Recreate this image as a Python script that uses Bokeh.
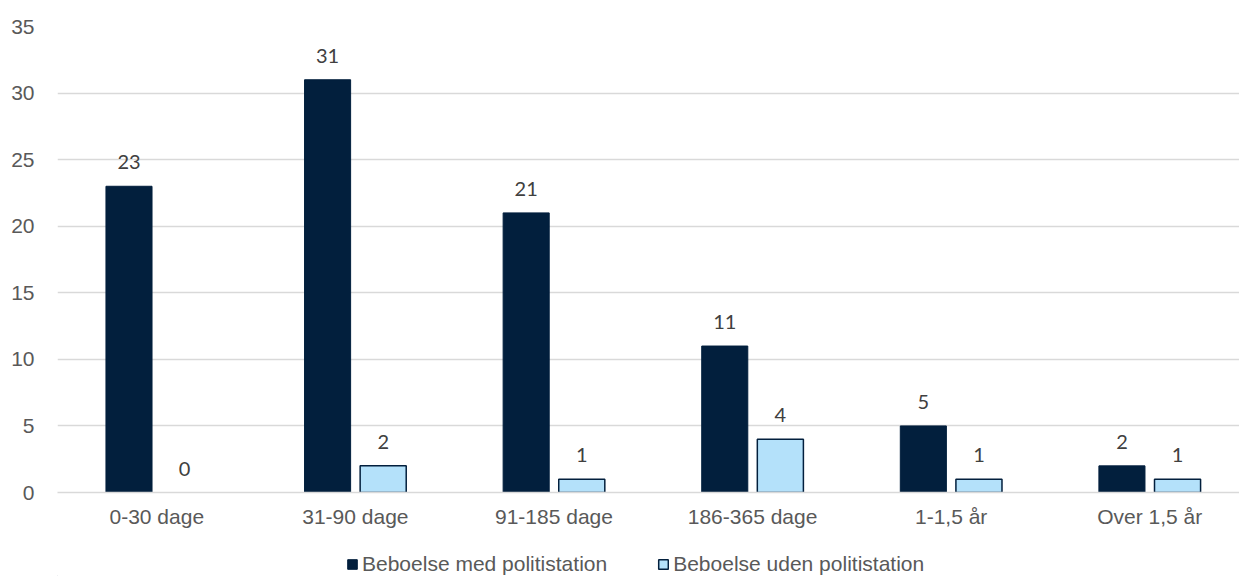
from bokeh.plotting import figure
from bokeh.layouts import column
from bokeh.models import (ColumnDataSource, Range1d, FixedTicker, LabelSet,
                          Legend, LegendItem)
from bokeh.core.properties import value
from bokeh.embed import file_html
from bokeh.resources import INLINE

categories = ["0-30 dage", "31-90 dage", "91-185 dage", "186-365 dage", "1-1,5 år", "Over 1,5 år"]
med_politistation = [23, 31, 21, 11, 5, 2]
uden_politistation = [0, 2, 1, 4, 1, 1]
series_names = ["Beboelse med politistation", "Beboelse uden politistation"]
y_ticks = [0, 5, 10, 15, 20, 25, 30, 35]

DARK = "#021F3D"
LIGHT = "#B4E1FA"
GRID = "#D9D9D9"

centers = [i + 0.5 for i in range(len(categories))]
offset = 0.14
bar_w = 0.232

src_a = ColumnDataSource(dict(x=[c - offset for c in centers], top=med_politistation,
                              label=[str(v) for v in med_politistation]))
src_b = ColumnDataSource(dict(x=[c + offset for c in centers], top=uden_politistation,
                              label=[str(v) for v in uden_politistation],
                              la=[0.0 if v == 0 else 1.0 for v in uden_politistation]))

p = figure(width=1239, height=540, output_backend="svg", toolbar_location=None,
           x_range=Range1d(0, 5.952), y_range=Range1d(0, 35),
           min_border_left=57, min_border_right=0, min_border_top=26, min_border_bottom=48)
p.outline_line_color = None
p.background_fill_color = "white"
p.border_fill_color = "white"

ra = p.vbar(x="x", top="top", width=bar_w, source=src_a, fill_color=DARK,
            line_color=DARK, line_width=1)
rb = p.vbar(x="x", top="top", width=bar_w, source=src_b, fill_color=LIGHT,
            line_color=DARK, line_width=1.5, line_alpha="la")

for s in (src_a, src_b):
    p.add_layout(LabelSet(x="x", y="top", text="label", source=s, y_offset=24,
                          text_align="center", text_baseline="middle",
                          text_font=value("Lato"), text_font_size="20px", text_color="#404040"))

p.xgrid.visible = False
p.ygrid.grid_line_color = GRID
p.ygrid.grid_line_width = 1.3
p.ygrid.ticker = FixedTicker(ticks=y_ticks)

p.yaxis.ticker = FixedTicker(ticks=y_ticks)
p.yaxis.axis_line_color = None
p.yaxis.major_tick_line_color = None
p.yaxis.minor_tick_line_color = None
p.yaxis.major_tick_out = 0
p.yaxis.major_tick_in = 0
p.yaxis.major_label_standoff = 23
p.yaxis.major_label_text_font = "Liberation Sans"
p.yaxis.major_label_text_font_size = "21px"
p.yaxis.major_label_text_color = "#595959"

p.xaxis.ticker = FixedTicker(ticks=centers)
p.xaxis.major_label_overrides = {c: lab for c, lab in zip(centers, categories)}
p.xaxis.axis_line_color = GRID
p.xaxis.axis_line_width = 1.3
p.xaxis.major_tick_line_color = None
p.xaxis.minor_tick_line_color = None
p.xaxis.major_tick_out = 0
p.xaxis.major_tick_in = 0
p.xaxis.major_label_standoff = 12
p.xaxis.major_label_text_font = "Liberation Sans"
p.xaxis.major_label_text_font_size = "21px"
p.xaxis.major_label_text_color = "#595959"

# legend strip below the chart (legend swatches come from off-screen proxy bars)
p2 = figure(width=1239, height=36, output_backend="svg", toolbar_location=None,
            x_range=Range1d(0, 1), y_range=Range1d(0, 1),
            x_axis_location=None, y_axis_location=None,
            min_border_left=0, min_border_right=0, min_border_top=0, min_border_bottom=0)
p2.outline_line_color = None
p2.grid.visible = False
p2.background_fill_color = "white"
p2.border_fill_color = "white"
la_ = p2.vbar(x=[-10], top=[0], width=0.1, fill_color=DARK, line_color=DARK, line_width=1)
lb_ = p2.vbar(x=[-10], top=[0], width=0.1, fill_color=LIGHT, line_color=DARK, line_width=1.5)

legend = Legend(items=[LegendItem(label=series_names[0], renderers=[la_], index=0),
                       LegendItem(label=series_names[1], renderers=[lb_], index=0)],
                orientation="horizontal", location=(289, 0),
                glyph_width=12, glyph_height=12, label_standoff=4, spacing=50,
                padding=0, margin=0, border_line_color=None, background_fill_alpha=0,
                label_text_font="Liberation Sans", label_text_font_size="21px",
                label_text_color="#595959")
p2.add_layout(legend, "center")

layout = column(p, p2, spacing=0)
open("out.html", "w").write(file_html(layout, INLINE))
